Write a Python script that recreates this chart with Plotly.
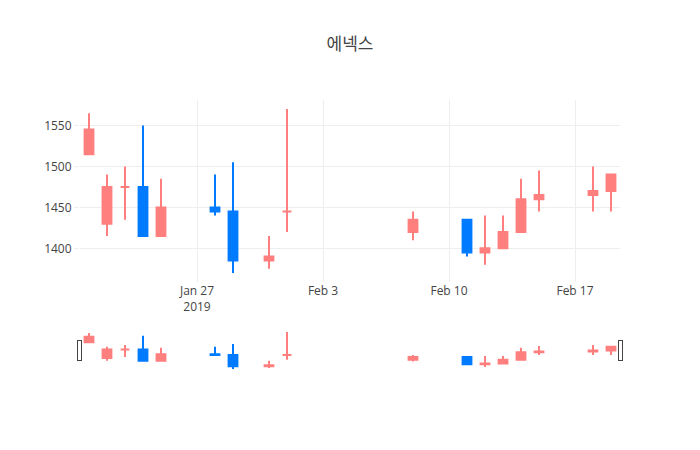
import plotly.graph_objects as go

dates = ["2019-01-21", "2019-01-22", "2019-01-23", "2019-01-24", "2019-01-25",
         "2019-01-28", "2019-01-29", "2019-01-31", "2019-02-01", "2019-02-08",
         "2019-02-11", "2019-02-12", "2019-02-13", "2019-02-14", "2019-02-15",
         "2019-02-18", "2019-02-19"]
open_ = [1515, 1430, 1475, 1475, 1415, 1450, 1445, 1385, 1445, 1420,
         1435, 1395, 1400, 1420, 1460, 1465, 1470]
high = [1565, 1490, 1500, 1550, 1485, 1490, 1505, 1415, 1570, 1445,
        1435, 1440, 1440, 1485, 1495, 1500, 1490]
low = [1515, 1415, 1435, 1415, 1415, 1440, 1370, 1375, 1420, 1410,
       1390, 1380, 1400, 1420, 1445, 1445, 1445]
close = [1545, 1475, 1475, 1415, 1450, 1445, 1385, 1390, 1445, 1435,
         1395, 1400, 1420, 1460, 1465, 1470, 1490]

up_color = "#FF7F7F"
down_color = "#007BFF"

fig = go.Figure(go.Candlestick(
    x=dates, open=open_, high=high, low=low, close=close,
    increasing=dict(line=dict(color=up_color), fillcolor=up_color),
    decreasing=dict(line=dict(color=down_color), fillcolor=down_color),
))

fig.update_layout(
    template="none",
    width=700, height=450,
    title=dict(text="에넥스", x=0.5, xanchor="center"),
    font=dict(family="Open Sans, Noto Sans CJK KR, sans-serif", color="#444"),
    showlegend=False,
    xaxis=dict(gridcolor="#eee", rangeslider=dict(visible=True)),
    yaxis=dict(gridcolor="#eee", ticks="outside", tickcolor="#eee", ticklen=5),
    plot_bgcolor="white", paper_bgcolor="white",
)

fig.write_html("out.html")
